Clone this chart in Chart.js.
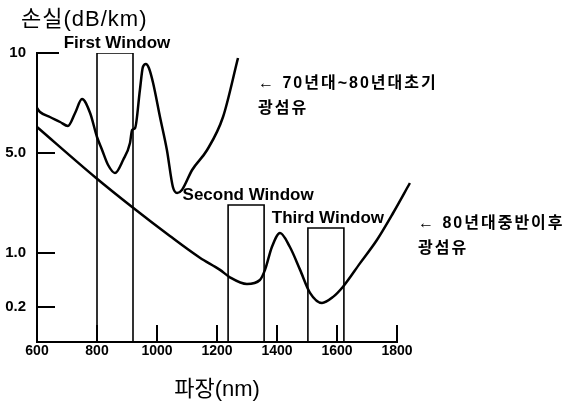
<!DOCTYPE html>
<html>
<head>
<meta charset="utf-8">
<script src="https://cdn.jsdelivr.net/npm/chart.js@4.4.0/dist/chart.umd.min.js"></script>
<style>
  html, body { margin: 0; background: #fff; }
  #wrap { width: 568px; height: 403px; }
</style>
</head>
<body>
<div id="wrap"><canvas id="lossChart"></canvas></div>
<script>
// wavelength (nm) / loss (dB/km)
const oldFiberNm = [600, 610, 643, 677, 703, 727, 750, 777, 800, 817, 837, 860, 887, 910, 917, 927, 943, 953, 963, 973, 987, 1010, 1033, 1053, 1067, 1083, 1117, 1167, 1220, 1270];
const oldFiberLoss = [7.25, 7.05, 6.8, 6.55, 6.35, 7.0, 7.7, 7.0, 5.8, 5.15, 4.52, 4.2, 4.72, 5.5, 6.15, 6.25, 8.15, 9.3, 9.45, 9.25, 8.5, 6.8, 5.15, 3.64, 3.4, 3.52, 4.32, 5.15, 6.8, 9.75];

const newFiberNm = [600, 797, 917, 1043, 1143, 1210, 1243, 1300, 1343, 1360, 1383, 1410, 1443, 1477, 1510, 1550, 1587, 1620, 1677, 1733, 1787, 1843];
const newFiberLoss = [6.3, 4.0, 2.84, 1.68, 0.93, 0.75, 0.64, 0.54, 0.6, 0.75, 1.24, 1.8, 1.24, 0.75, 0.41, 0.26, 0.35, 0.5, 0.85, 1.52, 2.6, 3.8];

const windowNames = ['First Window', 'Second Window', 'Third Window'];
const windowStartNm = [800, 1237, 1503];
const windowEndNm = [920, 1357, 1623];
const windowTopLoss = [10, 2.92, 2.0];

const xTickValues = [600, 800, 1000, 1200, 1400, 1600, 1800];
const yTickValues = [0.2, 1.0, 5.0, 10];
const yTickLabels = ['0.2', '1.0', '5.0', '10'];

// the loss axis of the figure is schematic (not to scale): piecewise breakpoints
const yBreakValues = [0, 0.2, 1, 5, 10];
const yBreakLevels = [0, 35, 89, 189, 289];

function toLevel(v) {
  for (let i = 1; i < yBreakValues.length; i++) {
    if (v <= yBreakValues[i] || i === yBreakValues.length - 1) {
      const t = (v - yBreakValues[i - 1]) / (yBreakValues[i] - yBreakValues[i - 1]);
      return yBreakLevels[i - 1] + t * (yBreakLevels[i] - yBreakLevels[i - 1]);
    }
  }
}

const toPoints = (xs, ys) => xs.map((x, i) => ({ x: x, y: toLevel(ys[i]) }));

const curveStyle = {
  borderColor: '#000',
  borderWidth: 2.5,
  pointRadius: 0,
  cubicInterpolationMode: 'monotone',
  clip: false,
  fill: false
};

const windowSets = windowNames.map((name, i) => ({
  label: name,
  data: [
    { x: windowStartNm[i], y: 0 },
    { x: windowStartNm[i], y: toLevel(windowTopLoss[i]) },
    { x: windowEndNm[i], y: toLevel(windowTopLoss[i]) },
    { x: windowEndNm[i], y: 0 }
  ],
  borderColor: '#000',
  borderWidth: 1.6,
  pointRadius: 0,
  tension: 0,
  fill: false
}));

const KFONT = '"Liberation Sans", "Noto Sans CJK KR", sans-serif';

const decorations = {
  id: 'decorations',
  afterDatasetsDraw(chart) {
    const { ctx } = chart;
    const x = chart.scales.x, y = chart.scales.y;
    ctx.save();
    ctx.strokeStyle = '#000';
    ctx.fillStyle = '#000';
    ctx.lineWidth = 2;
    ctx.beginPath();
    xTickValues.slice(1).forEach(v => {
      const px = x.getPixelForValue(v);
      ctx.moveTo(px, y.bottom);
      ctx.lineTo(px, y.bottom - 17);
    });
    yTickValues.forEach(v => {
      const py = y.getPixelForValue(toLevel(v));
      ctx.moveTo(x.left, py);
      ctx.lineTo(x.left + (v === 10 ? 22 : 18), py);
    });
    ctx.stroke();

    // window captions
    ctx.font = 'bold 17px ' + KFONT;
    ctx.textAlign = 'center';
    ctx.textBaseline = 'alphabetic';
    windowNames.forEach((name, i) => {
      const cx = x.getPixelForValue((windowStartNm[i] + windowEndNm[i]) / 2) + 2;
      const top = y.getPixelForValue(toLevel(windowTopLoss[i]));
      ctx.fillText(name, cx, top - 5);
    });

    // axis caption and curve notes
    ctx.textAlign = 'left';
    ctx.textBaseline = 'middle';
    ctx.font = '22px ' + KFONT;
    ctx.letterSpacing = '1px';
    ctx.fillText('손실(dB/km)', 21, 20);
    ctx.font = 'bold 16px ' + KFONT;
    ctx.letterSpacing = '2px';
    ctx.fillText('← 70년대~80년대초기', 258, 84);
    ctx.fillText('광섬유', 258, 109);
    ctx.fillText('← 80년대중반이후', 418, 224);
    ctx.fillText('광섬유', 418, 249);
    ctx.restore();
  }
};

new Chart(document.getElementById('lossChart'), {
  type: 'line',
  data: {
    datasets: [
      Object.assign({ label: '70년대~80년대초기 광섬유', data: toPoints(oldFiberNm, oldFiberLoss) }, curveStyle),
      Object.assign({ label: '80년대중반이후 광섬유', data: toPoints(newFiberNm, newFiberLoss) }, curveStyle),
      ...windowSets
    ]
  },
  options: {
    responsive: true,
    maintainAspectRatio: false,
    animation: false,
    layout: { padding: { left: 0, top: 53, right: 171, bottom: 0 } },
    plugins: {
      legend: { display: false },
      tooltip: { enabled: false }
    },
    scales: {
      x: {
        type: 'linear',
        min: 600,
        max: 1800,
        afterFit: s => { s.height = 61; },
        afterBuildTicks: s => { s.ticks = xTickValues.map(v => ({ value: v })); },
        grid: { display: false, drawTicks: false },
        border: { display: true, color: '#000', width: 2 },
        ticks: {
          color: '#000',
          padding: 1,
          font: { family: KFONT, size: 14, weight: 'bold' },
          callback: value => String(value)
        },
        title: {
          display: true,
          text: '파장(nm)',
          color: '#000',
          padding: { top: 0, bottom: 0 },
          font: { family: KFONT, size: 22 }
        }
      },
      y: {
        type: 'linear',
        min: 0,
        max: toLevel(10),
        afterFit: s => { s.width = 37; },
        afterBuildTicks: s => { s.ticks = yTickValues.map(v => ({ value: toLevel(v) })); },
        grid: { display: false, drawTicks: false },
        border: { display: true, color: '#000', width: 2 },
        ticks: {
          color: '#000',
          padding: 11,
          font: { family: KFONT, size: 15, weight: 'bold' },
          callback: (value, index) => yTickLabels[index]
        }
      }
    }
  },
  plugins: [decorations]
});
</script>
</body>
</html>
